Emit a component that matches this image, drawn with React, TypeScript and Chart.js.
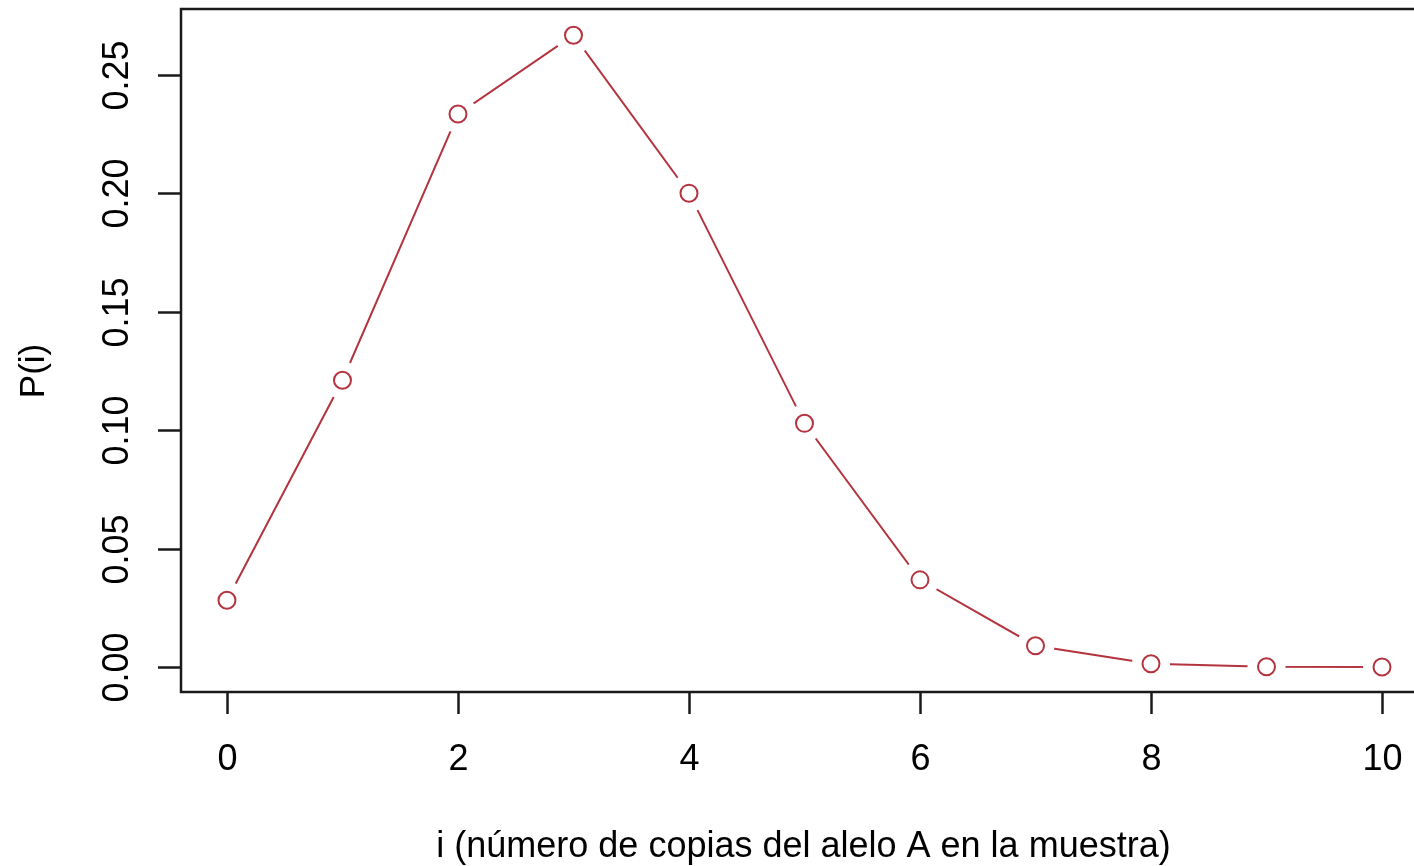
import React, { useEffect, useRef } from "react";
import { Chart, registerables } from "chart.js";

Chart.register(...registerables);

const iValues = [0, 1, 2, 3, 4, 5, 6, 7, 8, 9, 10];
const probabilities = [0.0282, 0.1211, 0.2335, 0.2668, 0.2001, 0.1029, 0.0368, 0.009, 0.0014, 0.0001, 0.0];
const xTickValues = [0, 2, 4, 6, 8, 10];
const yTickValues = [0, 0.05, 0.1, 0.15, 0.2, 0.25];
const yTickLabels = ["0.00", "0.05", "0.10", "0.15", "0.20", "0.25"];
const xTitle = "i (número de copias del alelo A en la muestra)";
const yTitle = "P(i)";

const RED = "#b3343f";
const AXIS = "#1a1a1a";
const FONT = "'Liberation Sans', Arial, Helvetica, sans-serif";

export default function App() {
  const ref = useRef<HTMLCanvasElement | null>(null);

  useEffect(() => {
    if (!ref.current) return;
    const pts = iValues.map((x, k) => ({ x, y: probabilities[k] }));

    const axesPlugin = {
      id: "rAxes",
      afterDraw(chart: any) {
        const ctx = chart.ctx;
        const { left, top, bottom } = chart.chartArea;
        const xs = chart.scales.x;
        const ys = chart.scales.y;
        const W = chart.width;
        ctx.save();
        ctx.strokeStyle = AXIS;
        ctx.lineWidth = 2.5;
        ctx.lineCap = "butt";
        // box (right side falls outside the canvas)
        ctx.beginPath();
        ctx.moveTo(W + 5, top);
        ctx.lineTo(left, top);
        ctx.lineTo(left, bottom);
        ctx.lineTo(W + 5, bottom);
        ctx.stroke();
        // x ticks
        ctx.fillStyle = "#000";
        ctx.font = `36px ${FONT}`;
        ctx.textAlign = "center";
        ctx.textBaseline = "alphabetic";
        xTickValues.forEach((v) => {
          const px = Math.round(xs.getPixelForValue(v)) + 0.5;
          ctx.beginPath();
          ctx.moveTo(px, bottom);
          ctx.lineTo(px, bottom + 22);
          ctx.stroke();
          ctx.fillText(String(v), px, 770);
        });
        // y ticks
        yTickValues.forEach((v, k) => {
          const py = Math.round(ys.getPixelForValue(v)) + 0.5;
          ctx.beginPath();
          ctx.moveTo(left, py);
          ctx.lineTo(left - 23, py);
          ctx.stroke();
          ctx.save();
          ctx.translate(128, py);
          ctx.rotate(-Math.PI / 2);
          ctx.fillText(yTickLabels[k], 0, 0);
          ctx.restore();
        });
        // titles
        ctx.font = `36px ${FONT}`;
        ctx.fillText(xTitle, (xs.getPixelForValue(0) + xs.getPixelForValue(10)) / 2 - 1, 857);
        ctx.save();
        ctx.font = `35px ${FONT}`;
        ctx.translate(44, (ys.getPixelForValue(0) + ys.getPixelForValue(0.25)) / 2);
        ctx.rotate(-Math.PI / 2);
        ctx.fillText(yTitle, 0, 0);
        ctx.restore();
        ctx.restore();
      },
    };

    const chart = new Chart(ref.current, {
      type: "scatter",
      data: {
        datasets: [
          {
            data: pts,
            showLine: true,
            borderColor: RED,
            borderWidth: 2,
            pointRadius: 0,
            order: 3,
          },
          {
            data: pts,
            showLine: false,
            pointRadius: 19,
            pointBackgroundColor: "#ffffff",
            pointBorderWidth: 0,
            pointBorderColor: "rgba(0,0,0,0)",
            order: 2,
          },
          {
            data: pts,
            showLine: false,
            pointRadius: 8.5,
            pointBackgroundColor: "#ffffff",
            pointBorderColor: RED,
            pointBorderWidth: 2,
            order: 1,
          },
        ],
      },
      options: {
        animation: false,
        responsive: false,
        events: [],
        layout: { autoPadding: false, padding: { left: 181, top: 9, right: 0, bottom: 866 - 692 } },
        plugins: { legend: { display: false }, tooltip: { enabled: false } },
        scales: {
          x: { type: "linear", min: -0.398, max: 10.277, display: false },
          y: { type: "linear", min: -0.010557, max: 0.27787, display: false },
        },
      },
      plugins: [axesPlugin],
    });
    return () => chart.destroy();
  }, []);

  return (
    <div style={{ position: "absolute", left: 0, top: 0, width: 1414, height: 866, overflow: "hidden", background: "#fff" }}>
      <canvas ref={ref} width={1414} height={866} style={{ display: "block", width: 1414, height: 866 }} />
    </div>
  );
}
